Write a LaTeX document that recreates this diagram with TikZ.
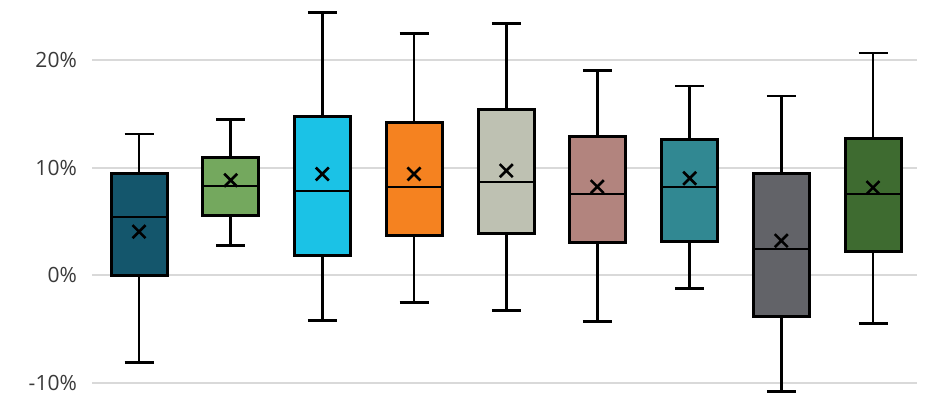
\documentclass[tikz,border=0pt]{standalone}
\usepackage{fontspec}
\setmainfont{Open Sans}
\definecolor{gridgray}{HTML}{D9D9D9}
\definecolor{labgray}{HTML}{3A3A3A}
\definecolor{boxA}{HTML}{14566C}
\definecolor{boxB}{HTML}{74A85E}
\definecolor{boxC}{HTML}{1BC2E6}
\definecolor{boxD}{HTML}{F58220}
\definecolor{boxE}{HTML}{BEC1B2}
\definecolor{boxF}{HTML}{B2847E}
\definecolor{boxG}{HTML}{318892}
\definecolor{boxH}{HTML}{626368}
\definecolor{boxI}{HTML}{3E6B30}
\begin{document}
\begin{tikzpicture}[x=1pt, y=10.74pt,
    gridline/.style={draw=gridgray, line width=2pt},
    ylabel/.style={anchor=east, inner sep=0pt, text=labgray, font=\fontsize{21}{24}\selectfont},
    whisker/.style={line width=2.6pt},
    boxbody/.style={draw=black, line width=3pt},
    median/.style={line width=2pt},
    meanmark/.style={line width=2.6pt}]
    \useasboundingbox (0,-11.52) rectangle (931,25.63);

    % grid and axis labels
    \foreach \v/\t in {20/20\%, 10/10\%, 0/0\%, -10/-10\%} {
      \draw[gridline] (92,\v) -- (917,\v);
      \node[ylabel] (lab\v) at (77,\v) {\t};
    }

    % boxes: centre/colour/low/q1/median/q3/high/mean
    \foreach \cx/\col/\lo/\qa/\me/\qb/\hi/\mn in {
        139/boxA/-8.14/0/5.4/9.46/13.16/4.06,
        230.7/boxB/2.79/5.55/8.34/10.92/14.49/8.85,
        322.3/boxC/-4.23/1.82/7.88/14.74/24.45/9.43,
        414/boxD/-2.55/3.66/8.25/14.27/22.5/9.43,
        506.3/boxE/-3.3/3.87/8.72/15.42/23.43/9.74,
        597.3/boxF/-4.32/3.04/7.6/12.9/19.05/8.25,
        689.7/boxG/-1.25/3.13/8.25/12.6/17.63/9.03,
        781.3/boxH/-10.84/-3.88/2.48/9.46/16.69/3.22,
        873/boxI/-4.51/2.2/7.54/12.78/20.7/8.16} {
      \draw[whisker] (\cx,\lo) -- (\cx,\qa);
      \draw[whisker] (\cx,\qb) -- (\cx,\hi);
      \draw[whisker] ({\cx-14.5},\lo) -- ({\cx+14.5},\lo);
      \draw[whisker] ({\cx-14.5},\hi) -- ({\cx+14.5},\hi);
      \filldraw[boxbody, fill=\col] ({\cx-28},\qa) rectangle ({\cx+28},\qb);
      \draw[median] ({\cx-28},\me) -- ({\cx+28},\me);
      \draw[meanmark] (\cx,\mn) +(-6.5pt,-6.5pt) -- +(6.5pt,6.5pt)
                      (\cx,\mn) +(-6.5pt,6.5pt) -- +(6.5pt,-6.5pt);
    }
\end{tikzpicture}
\end{document}
